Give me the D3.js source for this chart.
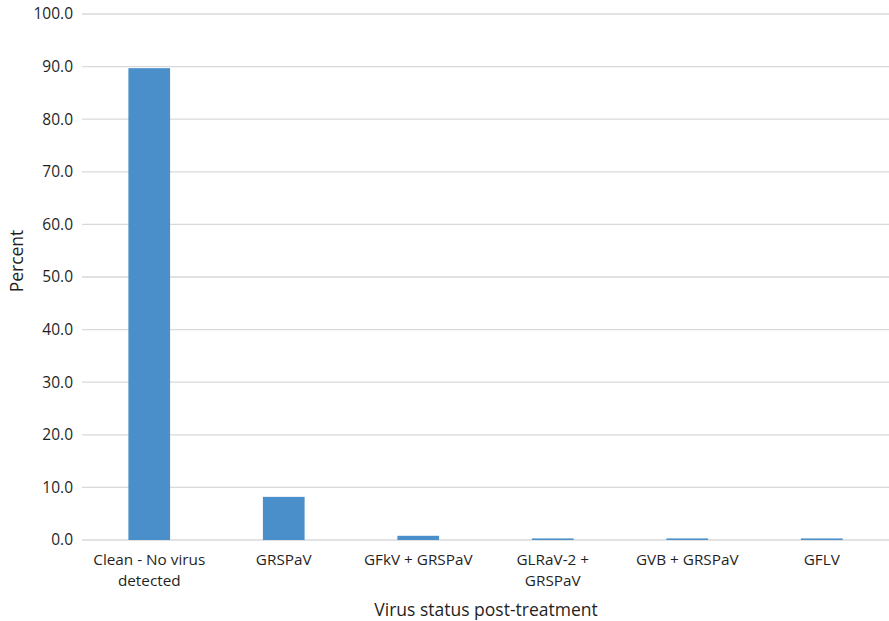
<!DOCTYPE html>
<html>
<head>
<meta charset="utf-8">
<script src="https://cdn.jsdelivr.net/npm/d3@7"></script>
<style>
body{margin:0;background:#fff;}
text{font-family:"Open Sans",sans-serif;fill:#1f1f1f;}
</style>
</head>
<body>
<svg id="c" width="889" height="621"></svg>
<script>
const categories = [["Clean - No virus","detected"],["GRSPaV"],["GFkV + GRSPaV"],["GLRaV-2 +","GRSPaV"],["GVB + GRSPaV"],["GFLV"]];
const values = [89.7, 8.2, 0.8, 0.3, 0.3, 0.3];
const yTicks = [0,10,20,30,40,50,60,70,80,90,100];

(function(){
const svg = d3.select("#c");
const pLeft = 82, pRight = 889, pTop = 14, pBottom = 540;
const x = d3.scaleBand().domain(d3.range(categories.length)).range([pLeft, pRight]).paddingInner(0.69).paddingOuter(0.345);
const y = d3.scaleLinear().domain([0,100]).range([pBottom, pTop]);

svg.append("g").selectAll("line").data(yTicks).join("line")
  .attr("x1", pLeft).attr("x2", pRight)
  .attr("y1", d => y(d)).attr("y2", d => y(d))
  .attr("stroke", "#d9d9d9").attr("stroke-width", 1.3);

svg.append("g").selectAll("text").data(yTicks).join("text")
  .attr("x", 73).attr("y", d => y(d)).attr("dy", "0.35em")
  .attr("text-anchor", "end").attr("font-size", 15.5)
  .text(d => d.toFixed(1));

svg.append("g").selectAll("rect").data(values).join("rect")
  .attr("x", (d,i) => x(i)).attr("width", x.bandwidth())
  .attr("y", d => y(d)).attr("height", d => y(0) - y(d))
  .attr("fill", "#4a8fc9");

const cl = svg.append("g").selectAll("text").data(categories).join("text")
  .attr("text-anchor", "middle").attr("font-size", 15.3);
cl.each(function(d,i){
  const t = d3.select(this);
  d.forEach((s,j) => t.append("tspan").attr("x", x(i)+x.bandwidth()/2).attr("y", 565 + j*21).text(s));
});

svg.append("text").attr("x", 486).attr("y", 616).attr("text-anchor","middle").attr("font-size", 17.5)
  .text("Virus status post-treatment");
svg.append("text").attr("transform","translate(23,261) rotate(-90)").attr("text-anchor","middle").attr("font-size", 17.5)
  .text("Percent");
})();
</script>
</body>
</html>
